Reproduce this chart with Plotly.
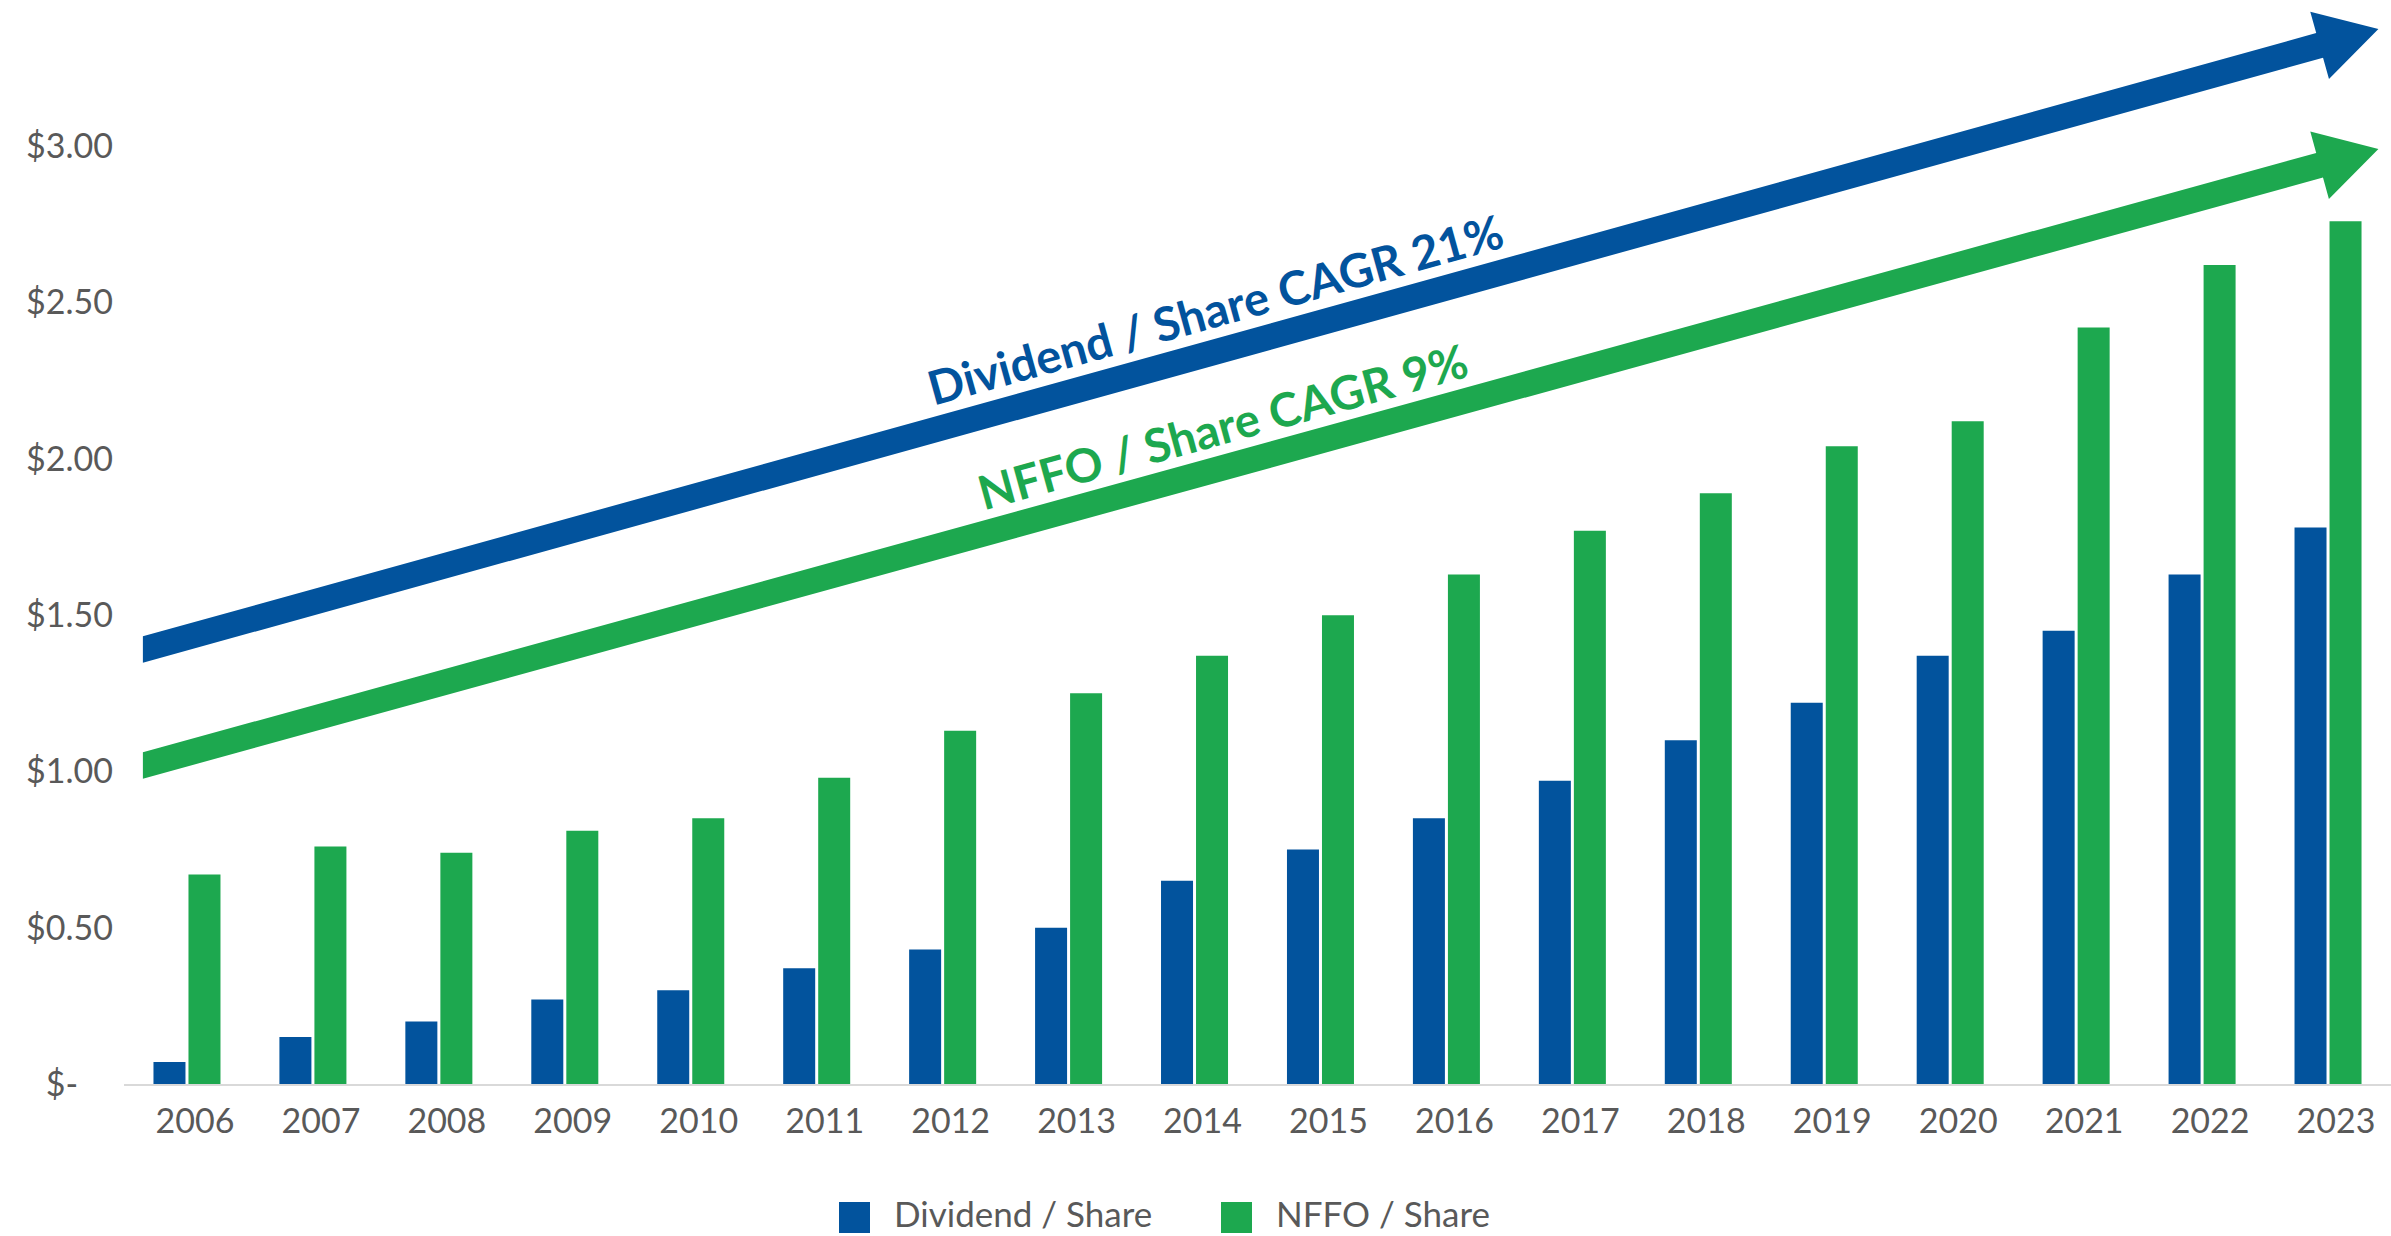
import math
import plotly.graph_objects as go

# ---------------- data ----------------
years = [2006, 2007, 2008, 2009, 2010, 2011, 2012, 2013, 2014, 2015,
         2016, 2017, 2018, 2019, 2020, 2021, 2022, 2023]
dividend_per_share = [0.07, 0.15, 0.20, 0.27, 0.30, 0.37, 0.43, 0.50, 0.65, 0.75,
                      0.85, 0.97, 1.10, 1.22, 1.37, 1.45, 1.63, 1.78]
nffo_per_share = [0.67, 0.76, 0.74, 0.81, 0.85, 0.98, 1.13, 1.25, 1.37, 1.50,
                  1.63, 1.77, 1.89, 2.04, 2.12, 2.42, 2.62, 2.76]
series_names = ["Dividend / Share", "NFFO / Share"]
y_tickvals = [0, 0.5, 1.0, 1.5, 2.0, 2.5, 3.0]
y_ticktext = ["$-\u00a0\u00a0\u00a0\u00a0", "$0.50", "$1.00", "$1.50", "$2.00", "$2.50", "$3.00"]
arrow_labels = ["Dividend / Share CAGR 21%", "NFFO / Share CAGR 9%"]
# arrow start / tip in data units (year, $)
arrow_start = [(2005.65, 1.390), (2005.65, 1.019)]
arrow_tip = [(2023.40, 3.375), (2023.40, 2.991)]
label_pos = [(2014.16, 2.479), (2014.22, 2.105)]

BLUE = "#02539D"
GREEN = "#1DA84F"
GRAY = "#595959"

# ---------------- layout constants ----------------
W, H = 2391, 1236
ML, MR, MT, MB = 124, 0, 0, 152
X_RANGE = [2005.5, 2023.5]
Y_RANGE = [0, 3.468]
PW, PH = W - ML - MR, H - MT - MB
PPX = PW / (X_RANGE[1] - X_RANGE[0])
PPY = PH / (Y_RANGE[1] - Y_RANGE[0])


def d2p(x, y):
    return ML + (x - X_RANGE[0]) * PPX, MT + PH - (y - Y_RANGE[0]) * PPY


def p2d(px, py):
    return X_RANGE[0] + (px - ML) / PPX, Y_RANGE[0] + (MT + PH - py) / PPY


def arrow_path(start, tip, shaft=25.5, head_len=61, head_w=70):
    sx, sy = d2p(*start)
    tx, ty = d2p(*tip)
    dx, dy = tx - sx, ty - sy
    ln = (dx * dx + dy * dy) ** 0.5
    ux, uy = dx / ln, dy / ln
    nx, ny = uy, -ux  # upward normal (screen y down)
    bx, by = tx - ux * head_len, ty - uy * head_len
    vt = shaft / abs(ux)  # vertical thickness at the vertical cut
    pts = [
        (sx, sy - vt / 2),
        (bx + nx * shaft / 2, by + ny * shaft / 2),
        (bx + nx * head_w / 2, by + ny * head_w / 2),
        (tx, ty),
        (bx - nx * head_w / 2, by - ny * head_w / 2),
        (bx - nx * shaft / 2, by - ny * shaft / 2),
        (sx, sy + vt / 2),
    ]
    dpts = [p2d(px, py) for px, py in pts]
    return "M" + " L".join(f"{x:.4f},{y:.4f}" for x, y in dpts) + " Z"


def ppx(px):
    return (px - ML) / PW


def ppy(py):
    return (MT + PH - py) / PH


fig = go.Figure()
fig.add_trace(go.Bar(x=years, y=dividend_per_share, name=series_names[0],
                     marker=dict(color=BLUE, line=dict(width=0)), showlegend=False))
fig.add_trace(go.Bar(x=years, y=nffo_per_share, name=series_names[1],
                     marker=dict(color=GREEN, line=dict(width=0)), showlegend=False))

shapes = []
annotations = []
for start, tip, col in zip(arrow_start, arrow_tip, [BLUE, GREEN]):
    shapes.append(dict(type="path", xref="x", yref="y", path=arrow_path(start, tip),
                       fillcolor=col, line=dict(width=0), layer="below"))

for (lx, ly), text, col, start, tip in zip(label_pos, arrow_labels, [BLUE, GREEN], arrow_start, arrow_tip):
    sx, sy = d2p(*start)
    tx, ty = d2p(*tip)
    ang = math.degrees(math.atan2(ty - sy, tx - sx))
    annotations.append(dict(x=lx, y=ly, xref="x", yref="y", text=text, showarrow=False,
                            textangle=ang, xanchor="center", yanchor="middle",
                            font=dict(family="Lato", size=47, color=col, weight="bold")))

# custom legend (large square swatches)
legend_items = [(839, 893, BLUE, series_names[0]), (1221, 1275, GREEN, series_names[1])]
for sq_x, tx_x, col, name in legend_items:
    shapes.append(dict(type="rect", xref="paper", yref="paper",
                       x0=ppx(sq_x), x1=ppx(sq_x + 31), y0=ppy(1233), y1=ppy(1202),
                       fillcolor=col, line=dict(width=0)))
    annotations.append(dict(x=ppx(tx_x), y=ppy(1235), xref="paper", yref="paper", text=name,
                            showarrow=False, xanchor="left", yanchor="bottom", borderpad=0,
                            font=dict(family="Lato", size=35, color=GRAY)))

fig.update_layout(
    template="none",
    width=W, height=H,
    margin=dict(l=ML, r=MR, t=MT, b=MB, pad=0),
    paper_bgcolor="white", plot_bgcolor="white",
    barmode="group", bargap=0.444, bargroupgap=0.086,
    showlegend=False,
    font=dict(family="Lato", color=GRAY),
    shapes=shapes, annotations=annotations,
    xaxis=dict(range=X_RANGE, tickvals=years, ticktext=[str(y) for y in years],
               showgrid=False, zeroline=False, showline=True, linecolor="#D9D9D9", linewidth=2,
               ticks="", tickfont=dict(family="Lato", size=34, color=GRAY),
               ticklabelshift=8, ticklabelstandoff=6, automargin=False),
    yaxis=dict(range=Y_RANGE, tickvals=y_tickvals, ticktext=y_ticktext,
               showgrid=False, zeroline=False, showline=False, ticks="",
               tickfont=dict(family="Lato", size=34, color=GRAY),
               ticklabelstandoff=10, automargin=False),
)

fig.write_html("out.html", config={"displayModeBar": False},
               post_script="document.body.style.margin='0px';document.body.style.overflow='hidden';")
